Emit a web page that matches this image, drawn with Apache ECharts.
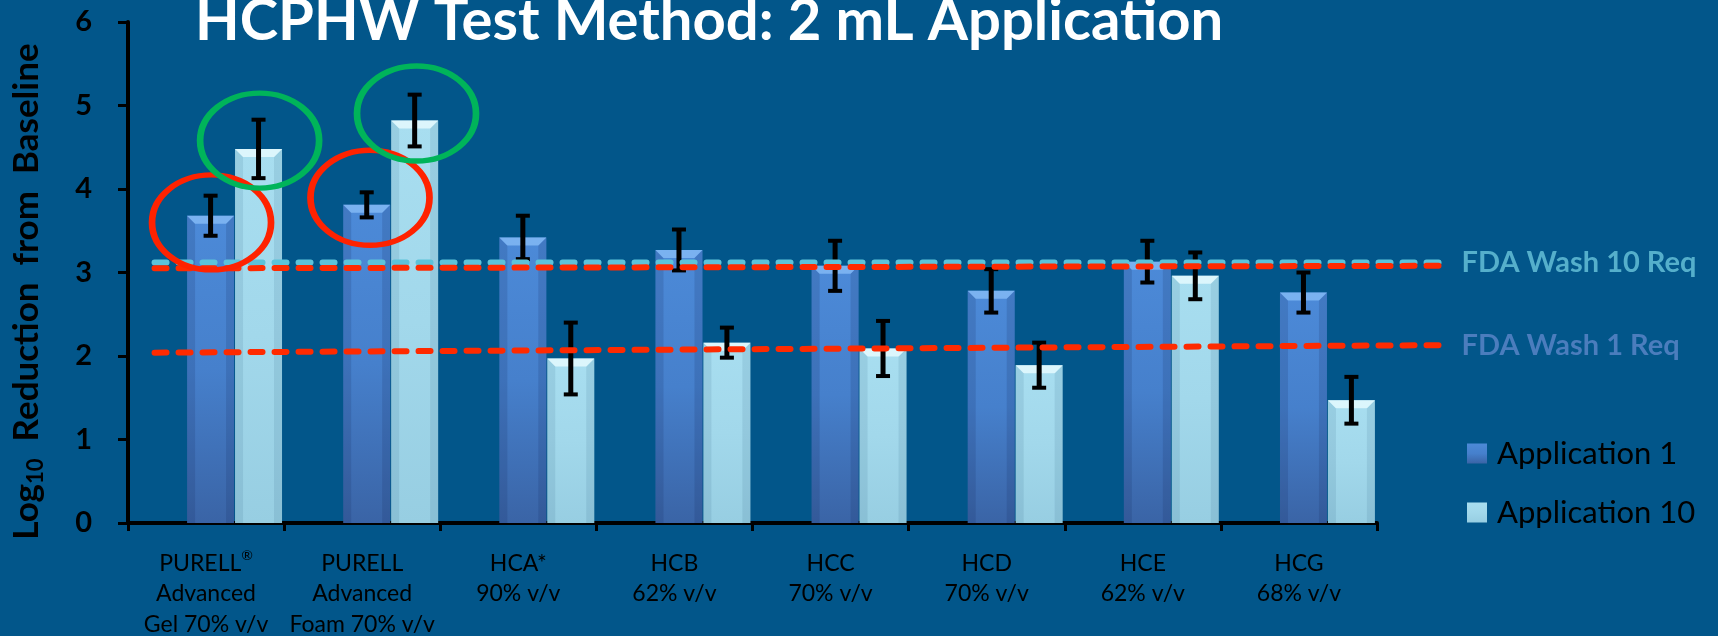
<!DOCTYPE html>
<html><head><meta charset="utf-8">
<script src="https://cdn.jsdelivr.net/npm/echarts@6/dist/echarts.min.js"></script>
<style>html,body{margin:0;padding:0;background:#02568a;overflow:hidden}#c{width:1718px;height:636px}</style>
</head><body><div id="c"></div>
<script>
// ---- data ----
const categories = [
  "PURELL®\nAdvanced\nGel 70% v/v",
  "PURELL\nAdvanced\nFoam 70% v/v",
  "HCA*\n90% v/v",
  "HCB\n62% v/v",
  "HCC\n70% v/v",
  "HCD\n70% v/v",
  "HCE\n62% v/v",
  "HCG\n68% v/v"
];
const app1 = [3.68, 3.81, 3.42, 3.27, 3.08, 2.78, 3.13, 2.76];
const app1Err = [0.24, 0.15, 0.26, 0.245, 0.30, 0.26, 0.25, 0.24];
const app10 = [4.48, 4.82, 1.97, 2.16, 2.09, 1.89, 2.96, 1.47];
const app10Err = [0.35, 0.31, 0.43, 0.18, 0.33, 0.27, 0.28, 0.28];
const yTickValues = [0, 1, 2, 3, 4, 5, 6];
// requirement lines: x span in category units, y values at start / end
const fdaSpan = [0.17, 8.42];
const fdaWash10 = [3.12, 3.12];
const redLine10 = [3.05, 3.08];
const redLine1 = [2.04, 2.13];
// highlight circles: [category position, value]
const redCircles = [[0.535, 3.60], [1.550, 3.895]];
const greenCircles = [[0.843, 4.58], [1.848, 4.904]];

// ---- layout constants ----
const BAR_W = 47, GAP = 0.94, SHIFT = 28.5;
const G = {left: 128, right: 341, top: 22, bottom: 113};
const CAT_PX = (1718 - G.left - G.right) / categories.length;
const ANN_MAX = 8.6;

const chart = echarts.init(document.getElementById('c'));

function grad(stops, horizontal) {
  return new echarts.graphic.LinearGradient(0, 0, horizontal ? 1 : 0, horizontal ? 0 : 1,
    stops.map((c, i) => ({offset: i / (stops.length - 1), color: c})));
}

function overlay(vals, errs, side, lightTop, sideShade) {
  return {
    type: 'custom', xAxisIndex: 2, yAxisIndex: 1, silent: true, z: 5, clip: false,
    data: vals.map((v, i) => [i, v, errs[i]]),
    encode: {x: 0, y: 1},
    renderItem(params, api) {
      const i = api.value(0), v = api.value(1), e = api.value(2);
      const top = api.coord([i, v]);
      const base = api.coord([i, 0]);
      const cx = top[0];
      const x0 = side < 0 ? cx - GAP / 2 - BAR_W : cx + GAP / 2;
      const x1 = x0 + BAR_W;
      const bv = 8;
      const ty = top[1], by = base[1];
      const hi = api.coord([i, v + e])[1], lo = api.coord([i, v - e])[1];
      const mx = (x0 + x1) / 2;
      return {type: 'group', children: [
        {type: 'polygon', shape: {points: [[x0, ty], [x0 + bv, ty + bv], [x0 + bv, by], [x0, by]]}, style: {fill: sideShade}},
        {type: 'polygon', shape: {points: [[x1, ty], [x1 - bv, ty + bv], [x1 - bv, by], [x1, by]]}, style: {fill: sideShade}},
        {type: 'polygon', shape: {points: [[x0, ty], [x1, ty], [x1 - bv, ty + bv], [x0 + bv, ty + bv]]}, style: {fill: lightTop}},
        {type: 'line', shape: {x1: mx, y1: hi, x2: mx, y2: lo}, style: {stroke: '#000', lineWidth: 5}},
        {type: 'line', shape: {x1: mx - 7, y1: hi, x2: mx + 7, y2: hi}, style: {stroke: '#000', lineWidth: 4}},
        {type: 'line', shape: {x1: mx - 7, y1: lo, x2: mx + 7, y2: lo}, style: {stroke: '#000', lineWidth: 4}}
      ]};
    }
  };
}

function reqLine(name, ys, color, labelColor, z) {
  return {
    type: 'line', name: name, xAxisIndex: 3, yAxisIndex: 2, z: z, silent: true,
    data: fdaSpan.map((x, k) => [x, ys[k]]),
    symbol: 'none', clip: false,
    lineStyle: {color: color, width: 6, type: [12, 12], cap: 'round'},
    endLabel: labelColor ? {show: true, formatter: '{a}', color: labelColor, fontFamily: 'Lato',
      fontWeight: 'bold', fontSize: 29, distance: 19} : {show: false}
  };
}

function circles(pts, color) {
  return {
    type: 'scatter', xAxisIndex: 3, yAxisIndex: 2, silent: true, z: 8,
    data: pts, symbol: 'circle', symbolSize: [119, 95],
    itemStyle: {color: 'rgba(0,0,0,0)', borderColor: color, borderWidth: 6, opacity: 1}
  };
}

const option = {
  backgroundColor: '#02568a',
  animation: false,
  title: {
    text: 'HCPHW Test Method: 2 mL Application',
    left: 190, top: -13,
    textStyle: {color: '#fff', fontFamily: 'Lato', fontWeight: 'bold', fontSize: 58}
  },
  legend: {
    orient: 'vertical', left: 1462, top: 433, itemWidth: 20, itemHeight: 20, itemGap: 28,
    icon: 'rect', data: ['Application 1', 'Application 10'],
    textStyle: {color: '#000', fontFamily: 'Lato', fontSize: 31, padding: [0, 0, 0, 5]}
  },
  grid: [
    Object.assign({outerBoundsMode: 'none'}, G),
    {outerBoundsMode: 'none', left: G.left + SHIFT, right: G.right - SHIFT, top: G.top, bottom: G.bottom},
    {outerBoundsMode: 'none', left: G.left, right: 1718 - G.left - ANN_MAX * CAT_PX, top: G.top, bottom: G.bottom}
  ],
  xAxis: [
    {type: 'category', gridIndex: 0, data: categories,
      axisLine: {lineStyle: {color: '#000', width: 4}},
      axisTick: {show: true, length: 8, lineStyle: {color: '#000', width: 3}},
      axisLabel: {color: '#000', fontFamily: 'Lato', fontSize: 23, lineHeight: 30.5, margin: 25, interval: 0,
        formatter: v => v.replace('®', '{sup|®}'),
        rich: {sup: {fontSize: 14, verticalAlign: 'top', color: '#000', fontFamily: 'Lato', lineHeight: 30.5}}},
      splitLine: {show: false}},
    {type: 'value', gridIndex: 0, min: 0, max: 8, show: false},
    {type: 'category', gridIndex: 1, data: categories, show: false},
    {type: 'value', gridIndex: 2, min: 0, max: ANN_MAX, show: false}
  ],
  yAxis: [
    {type: 'value', gridIndex: 0, min: yTickValues[0], max: yTickValues[yTickValues.length - 1], interval: 1,
      name: 'Log{sub|10}  Reduction  from  Baseline', nameLocation: 'middle', nameGap: 81, nameRotate: 90,
      nameTextStyle: {color: '#000', fontFamily: 'Lato', fontWeight: 'bold', fontSize: 35, lineHeight: 40,
        padding: [0, 38, 0, 0],
        rich: {sub: {fontSize: 22, fontWeight: 'bold', fontFamily: 'Lato', color: '#000', verticalAlign: 'bottom', lineHeight: 40}}},
      axisLine: {show: true, lineStyle: {color: '#000', width: 4}},
      axisTick: {show: true, length: 10, lineStyle: {color: '#000', width: 3}},
      axisLabel: {color: '#000', fontFamily: 'Lato', fontWeight: 'bold', fontSize: 29, margin: 36},
      splitLine: {show: false}},
    {type: 'value', gridIndex: 1, min: 0, max: 6, interval: 1, show: false},
    {type: 'value', gridIndex: 2, min: 0, max: 6, interval: 1, show: false}
  ],
  series: [
    {type: 'bar', name: 'Application 1', xAxisIndex: 2, yAxisIndex: 1, data: app1,
      barWidth: BAR_W, barGap: '2%', z: 3,
      itemStyle: {color: grad(['#4c8ad8', '#4680cc', '#3a64a6'])}},
    {type: 'bar', name: 'Application 10', xAxisIndex: 2, yAxisIndex: 1, data: app10,
      barWidth: BAR_W, barGap: '2%', z: 3,
      itemStyle: {color: grad(['#a8def0', '#a2d8eb', '#97cee2'])}},
    overlay(app1, app1Err, -1, 'rgba(130,185,245,0.85)', 'rgba(20,40,90,0.16)'),
    overlay(app10, app10Err, 1, 'rgba(225,248,253,0.9)', 'rgba(40,90,120,0.12)'),
    reqLine('FDA Wash 10 Req', fdaWash10, '#5cc3da', '#55afcb', 6),
    reqLine('FDA Wash 10 marker', redLine10, '#ff2a00', null, 7),
    reqLine('FDA Wash 1 Req', redLine1, '#ff2a00', '#4b7dbd', 7),
    circles(redCircles, '#ff2200'),
    circles(greenCircles, '#00b45a')
  ]
};
chart.setOption(option);
</script></body></html>
